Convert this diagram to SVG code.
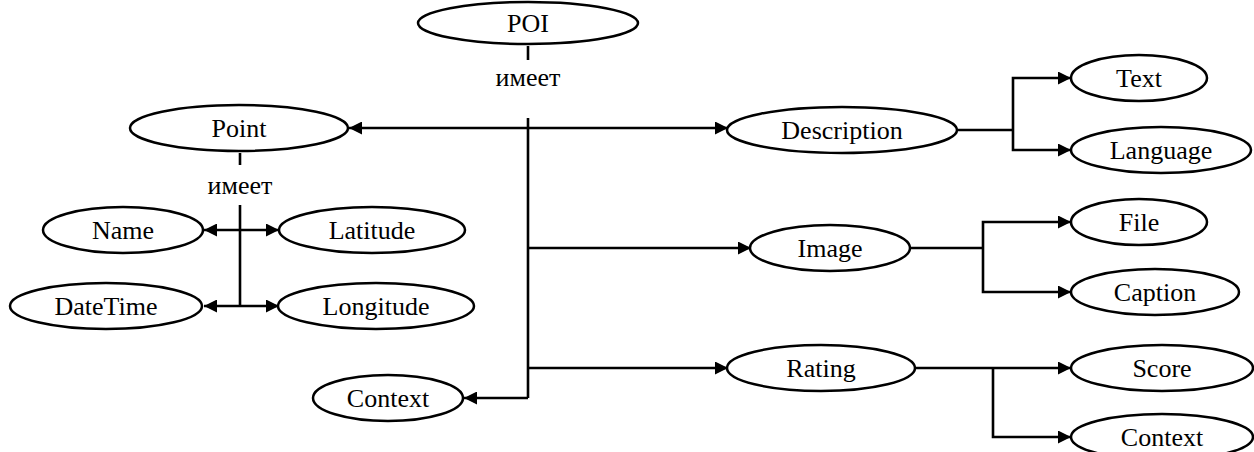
<svg xmlns="http://www.w3.org/2000/svg" width="1254" height="452" viewBox="0 0 1254 452">
<style>
.n ellipse{fill:#fff;stroke:#000;stroke-width:2.5}
text{font-family:"Liberation Serif","Times New Roman",serif;font-size:26px;fill:#000;text-anchor:middle;dominant-baseline:central}
.c path,.c line{fill:none;stroke:#000;stroke-width:2.6}
</style>
<defs>
<marker id="a" markerUnits="userSpaceOnUse" markerWidth="14" markerHeight="13" refX="13" refY="6.5" orient="auto">
<path d="M0,0 L13,6.5 L0,13 z" fill="#000"/>
</marker>
</defs>
<g class="c" id="connectors">
<line x1="528" y1="46" x2="528" y2="60"/>
<path d="M528,118 V398"/>
<path d="M528,128 H349" marker-end="url(#a)"/>
<path d="M528,128 H728" marker-end="url(#a)"/>
<path d="M528,248 H751" marker-end="url(#a)"/>
<path d="M528,368 H728" marker-end="url(#a)"/>
<path d="M528,398 H464" marker-end="url(#a)"/>
<line x1="240" y1="153" x2="240" y2="165"/>
<path d="M240,205 V306"/>
<path d="M240,230 H204" marker-end="url(#a)"/>
<path d="M240,230 H279" marker-end="url(#a)"/>
<path d="M240,306 H204" marker-end="url(#a)"/>
<path d="M240,306 H279" marker-end="url(#a)"/>
<path d="M957,130 H1013"/>
<path d="M1013,130 V78 H1071" marker-end="url(#a)"/>
<path d="M1013,130 V150 H1071" marker-end="url(#a)"/>
<path d="M910,248 H983"/>
<path d="M983,248 V222 H1071" marker-end="url(#a)"/>
<path d="M983,248 V292 H1071" marker-end="url(#a)"/>
<path d="M915,368 H993"/>
<path d="M993,368 H1071" marker-end="url(#a)"/>
<path d="M993,368 V437 H1071" marker-end="url(#a)"/>
</g>
<text x="528" y="77">имеет</text>
<text x="240" y="185">имеет</text>
<g class="n" id="poi"><ellipse cx="528" cy="23" rx="110" ry="21"/><text x="528" y="23">POI</text></g>
<g class="n" id="point"><ellipse cx="239" cy="128" rx="109" ry="23"/><text x="239" y="128">Point</text></g>
<g class="n" id="name"><ellipse cx="123" cy="230" rx="80" ry="23"/><text x="123" y="230">Name</text></g>
<g class="n" id="latitude"><ellipse cx="372" cy="230" rx="93" ry="23"/><text x="372" y="230">Latitude</text></g>
<g class="n" id="datetime"><ellipse cx="106" cy="306" rx="96" ry="23"/><text x="106" y="306">DateTime</text></g>
<g class="n" id="longitude"><ellipse cx="376" cy="306" rx="98" ry="23"/><text x="376" y="306">Longitude</text></g>
<g class="n" id="context-left"><ellipse cx="388" cy="398" rx="75" ry="23"/><text x="388" y="398">Context</text></g>
<g class="n" id="description"><ellipse cx="842" cy="130" rx="115" ry="23"/><text x="842" y="130">Description</text></g>
<g class="n" id="text"><ellipse cx="1139" cy="78" rx="68" ry="23"/><text x="1139" y="78">Text</text></g>
<g class="n" id="language"><ellipse cx="1161" cy="150" rx="90" ry="23"/><text x="1161" y="150">Language</text></g>
<g class="n" id="image"><ellipse cx="830" cy="248" rx="80" ry="23"/><text x="830" y="248">Image</text></g>
<g class="n" id="file"><ellipse cx="1139" cy="222" rx="68" ry="23"/><text x="1139" y="222">File</text></g>
<g class="n" id="caption"><ellipse cx="1155" cy="292" rx="84" ry="23"/><text x="1155" y="292">Caption</text></g>
<g class="n" id="rating"><ellipse cx="821" cy="368" rx="94" ry="23"/><text x="821" y="368">Rating</text></g>
<g class="n" id="score"><ellipse cx="1162" cy="368" rx="91" ry="23"/><text x="1162" y="368">Score</text></g>
<g class="n" id="context-right"><ellipse cx="1162" cy="437" rx="91" ry="23"/><text x="1162" y="437">Context</text></g>
</svg>
